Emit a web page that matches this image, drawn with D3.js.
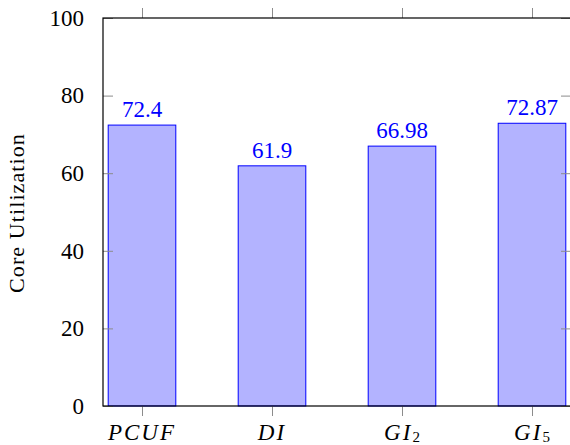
<!DOCTYPE html>
<html>
<head>
<meta charset="utf-8">
<script src="https://cdn.jsdelivr.net/npm/d3@7/dist/d3.min.js"></script>
<style>
  html, body { margin: 0; padding: 0; background: #fff; }
  svg { display: block; }
  svg text { font-family: "Liberation Serif", "Times New Roman", serif; }
</style>
</head>
<body>
<svg id="chart" width="570" height="445"></svg>
<script>
// Core utilization per scheduling scheme
const categories = ["PCUF", "DI", "GI2", "GI5"];
const labelBase = ["PCUF", "DI", "GI", "GI"];
const labelSub = ["", "", "2", "5"];
const values = [72.4, 61.9, 66.98, 72.87];
const valueLabels = ["72.4", "61.9", "66.98", "72.87"];
const yTicks = [0, 20, 40, 60, 80, 100];

const svg = d3.select("#chart");
const plotLeft = 103, plotRight = 571, plotTop = 18, plotBottom = 406;

const x = d3.scalePoint().domain(categories).range([plotLeft, plotRight]).padding(0.3);
const y = d3.scaleLinear().domain([0, 100]).range([plotBottom, plotTop]);
const barW = x.step() * 0.52;

// bars
svg.append("g").selectAll("rect")
  .data(values)
  .join("rect")
  .attr("x", (d, i) => x(categories[i]) - barW / 2)
  .attr("y", d => y(d))
  .attr("width", barW)
  .attr("height", d => y(0) - y(d))
  .attr("fill", "#b3b3ff")
  .attr("stroke", "#0000ff")
  .attr("stroke-width", 1);

// value labels above bars
svg.append("g").selectAll("text")
  .data(values)
  .join("text")
  .attr("x", (d, i) => x(categories[i]))
  .attr("y", d => y(d) - 8)
  .attr("text-anchor", "middle")
  .style("font-size", "23px")
  .attr("fill", "#0000ff")
  .text((d, i) => valueLabels[i]);

// y ticks (inside, left and right)
const tickColor = "#8c8c8c";
const yAxisL = d3.axisLeft(y).tickValues(yTicks).tickSizeInner(-10).tickSizeOuter(0).tickPadding(19);
const gL = svg.append("g").attr("transform", `translate(${plotLeft},0)`).call(yAxisL);
gL.attr("font-family", null).attr("font-size", null);
gL.select(".domain").remove();
gL.selectAll(".tick line").attr("stroke", tickColor);
gL.selectAll(".tick text").style("font-size", "23px").attr("fill", "#000");

const yAxisR = d3.axisRight(y).tickValues(yTicks).tickSizeInner(-10).tickSizeOuter(0).tickFormat("");
const gR = svg.append("g").attr("transform", `translate(${plotRight},0)`).call(yAxisR);
gR.select(".domain").remove();
gR.selectAll(".tick line").attr("stroke", tickColor);

// x ticks (outside, bottom and top)
const xAxisB = d3.axisBottom(x).tickSizeInner(10).tickSizeOuter(0).tickFormat("");
const gB = svg.append("g").attr("transform", `translate(0,${plotBottom})`).call(xAxisB);
gB.select(".domain").remove();
gB.selectAll(".tick line").attr("stroke", tickColor);

const xAxisT = d3.axisTop(x).tickSizeInner(10).tickSizeOuter(0).tickFormat("");
const gT = svg.append("g").attr("transform", `translate(0,${plotTop})`).call(xAxisT);
gT.select(".domain").remove();
gT.selectAll(".tick line").attr("stroke", tickColor);

// x category labels (italic, with subscripts)
const xl = svg.append("g").selectAll("text")
  .data(categories)
  .join("text")
  .attr("x", d => x(d))
  .attr("y", 439.5)
  .attr("text-anchor", "middle")
  .style("font-size", "23px")
  .attr("fill", "#000");
xl.append("tspan")
  .style("font-style", "italic")
  .style("letter-spacing", "2px")
  .text((d, i) => labelBase[i]);
xl.filter((d, i) => labelSub[i] !== "")
  .append("tspan")
  .style("font-size", "15px")
  .attr("dy", 2.5)
  .text(d => labelSub[categories.indexOf(d)]);

// axis frame
svg.append("rect")
  .attr("x", plotLeft).attr("y", plotTop)
  .attr("width", plotRight - plotLeft).attr("height", plotBottom - plotTop)
  .attr("fill", "none").attr("stroke", "#000").attr("stroke-width", 1.2);

// y axis title
svg.append("text")
  .attr("transform", `translate(24,${(plotTop + plotBottom) / 2 + 1}) rotate(-90)`)
  .attr("text-anchor", "middle")
  .style("font-size", "22px")
  .style("letter-spacing", "1.1px")
  .attr("fill", "#000")
  .text("Core Utilization");
</script>
</body>
</html>
